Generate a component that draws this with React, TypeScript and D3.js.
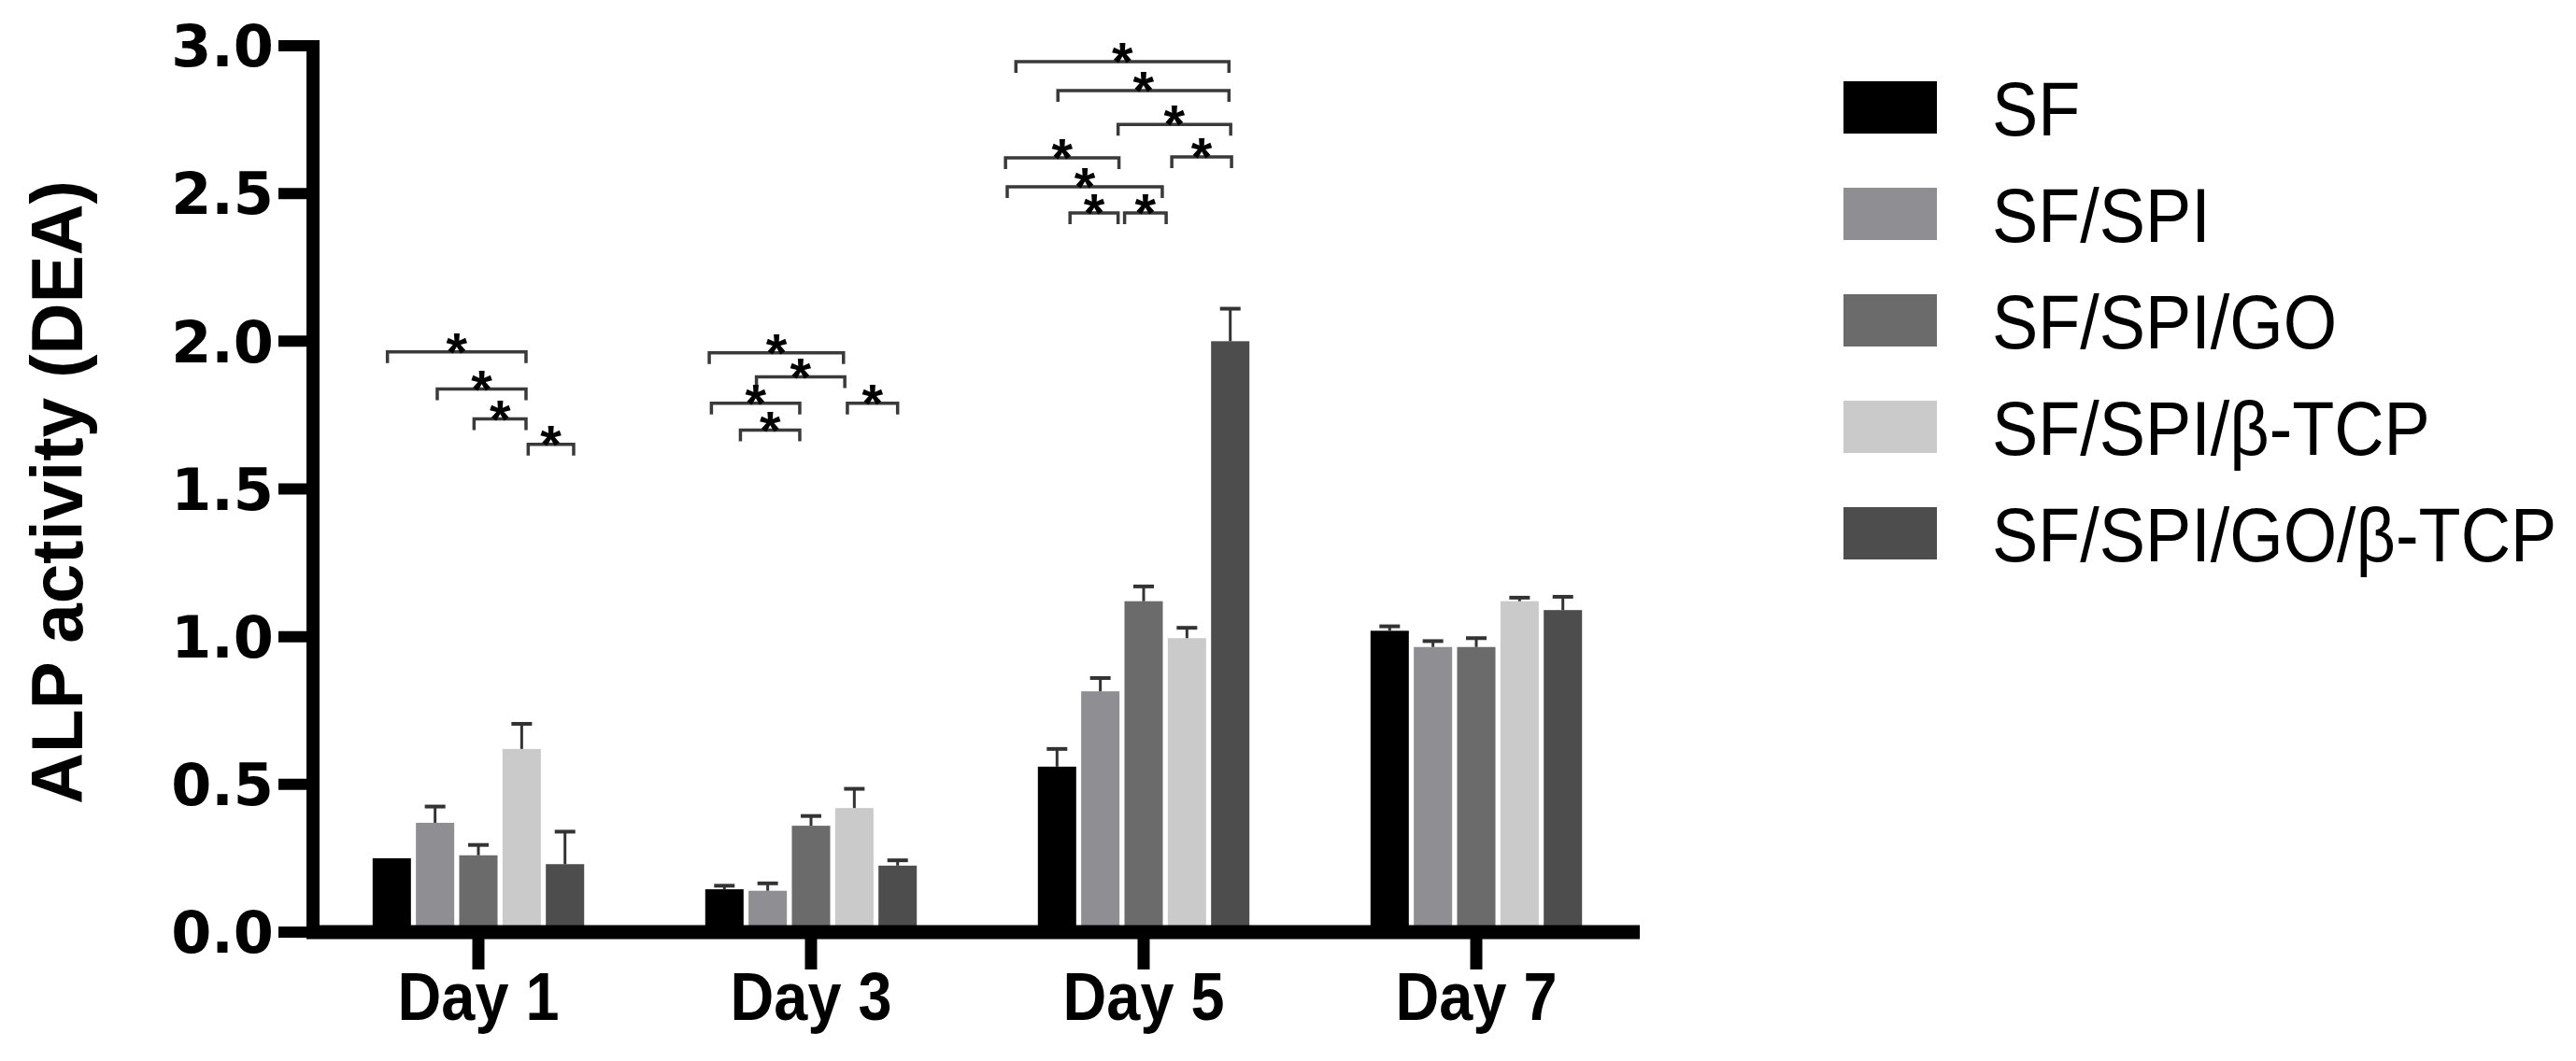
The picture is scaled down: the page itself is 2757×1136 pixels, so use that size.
import React, { useRef, useEffect } from "react";
import { select, scaleBand, scaleLinear, format } from "d3";

const days = ["Day 1", "Day 3", "Day 5", "Day 7"];
const groups = ["SF", "SF/SPI", "SF/SPI/GO", "SF/SPI/β-TCP", "SF/SPI/GO/β-TCP"];
const colors = ["#000000", "#8f8f93", "#6b6b6b", "#cacaca", "#4d4d4d"];

// mean ALP activity, one value per day
const sfMeans = [0.25, 0.145, 0.56, 1.02];
const spiMeans = [0.37, 0.14, 0.815, 0.965];
const goMeans = [0.26, 0.36, 1.12, 0.965];
const tcpMeans = [0.62, 0.42, 0.995, 1.12];
const goTcpMeans = [0.23, 0.225, 2.0, 1.09];

// upper error (SD)
const sfErr = [0.0, 0.012, 0.06, 0.015];
const spiErr = [0.055, 0.025, 0.045, 0.02];
const goErr = [0.035, 0.033, 0.05, 0.03];
const tcpErr = [0.085, 0.065, 0.035, 0.012];
const goTcpErr = [0.11, 0.018, 0.11, 0.045];

const yTicks = [0, 0.5, 1.0, 1.5, 2.0, 2.5, 3.0];

// significance brackets: [day index, from (bar index), to (bar index), height]
const brackets = [
  [0, -0.1, 3.1, 1.964],
  [0, 1.05, 3.1, 1.838],
  [0, 1.9, 3.1, 1.737],
  [0, 3.15, 4.2, 1.651],
  [1, -0.35, 2.75, 1.961],
  [1, 0.74, 2.78, 1.879],
  [1, -0.3, 1.74, 1.79],
  [1, 2.84, 4.0, 1.79],
  [1, 0.37, 1.74, 1.699],
  [2, -0.95, 3.97, 2.946],
  [2, 0.02, 3.97, 2.848],
  [2, 1.41, 4.01, 2.734],
  [2, -1.19, 1.43, 2.621],
  [2, 2.65, 4.03, 2.624],
  [2, -1.15, 2.43, 2.523],
  [2, 0.3, 1.41, 2.434],
  [2, 1.56, 2.52, 2.434],
];

const means = [sfMeans, spiMeans, goMeans, tcpMeans, goTcpMeans];
const errors = [sfErr, spiErr, goErr, tcpErr, goTcpErr];

function AlpChart() {
  const svgRef = useRef(null);

  useEffect(() => {
    const svg = select(svgRef.current);
    svg.selectAll("*").remove();

    const x0 = scaleBand()
      .domain(days)
      .range([334, 1758])
      .paddingInner(0.364)
      .paddingOuter(0.182);

    const x1 = scaleBand()
      .domain(groups)
      .range([0, x0.bandwidth()])
      .paddingInner(0.115);

    const y = scaleLinear().domain([0, 3]).range([998, 49]);

    const rows = days.flatMap((day, i) =>
      groups.map((g, j) => ({
        day,
        g,
        j,
        value: means[j][i],
        err: errors[j][i],
      }))
    );

    const barCenter = (d) => x0(d.day) + x1(d.g) + x1.bandwidth() / 2;

    // bars
    svg
      .append("g")
      .selectAll("rect")
      .data(rows)
      .join("rect")
      .attr("x", (d) => x0(d.day) + x1(d.g))
      .attr("y", (d) => y(d.value))
      .attr("width", x1.bandwidth())
      .attr("height", (d) => y(0) - y(d.value))
      .attr("fill", (d) => colors[d.j]);

    // error bars (upper only)
    const eb = svg
      .append("g")
      .attr("stroke", "#333")
      .selectAll("g")
      .data(rows.filter((d) => d.err > 0))
      .join("g");
    eb.append("line")
      .attr("x1", barCenter)
      .attr("x2", barCenter)
      .attr("y1", (d) => y(d.value))
      .attr("y2", (d) => y(d.value + d.err))
      .attr("stroke-width", 3);
    eb.append("line")
      .attr("x1", (d) => barCenter(d) - 11)
      .attr("x2", (d) => barCenter(d) + 11)
      .attr("y1", (d) => y(d.value + d.err))
      .attr("y2", (d) => y(d.value + d.err))
      .attr("stroke-width", 4);

    // y axis
    svg
      .append("line")
      .attr("x1", 335)
      .attr("x2", 335)
      .attr("y1", y(3) - 6)
      .attr("y2", y(0))
      .attr("stroke", "#000")
      .attr("stroke-width", 14);
    svg
      .append("g")
      .selectAll("line")
      .data(yTicks)
      .join("line")
      .attr("x1", 298)
      .attr("x2", 335)
      .attr("y1", (d) => y(d))
      .attr("y2", (d) => y(d))
      .attr("stroke", "#000")
      .attr("stroke-width", 12);
    svg
      .append("g")
      .selectAll("text")
      .data(yTicks)
      .join("text")
      .attr("x", 293)
      .attr("y", (d) => y(d))
      .attr("dy", "0.36em")
      .attr("text-anchor", "end")
      .attr("font-family", "DejaVu Sans")
      .attr("font-weight", "bold")
      .attr("font-size", 62)
      .text((d) => format(".1f")(d));

    svg
      .append("text")
      .attr("transform", "translate(88,527) rotate(-90)")
      .attr("text-anchor", "middle")
      .attr("font-family", "Liberation Sans")
      .attr("font-weight", "bold")
      .attr("font-size", 78)
      .attr("textLength", 668)
      .attr("lengthAdjust", "spacingAndGlyphs")
      .text("ALP activity (DEA)");

    // x axis
    svg
      .append("line")
      .attr("x1", 328)
      .attr("x2", 1755)
      .attr("y1", y(0))
      .attr("y2", y(0))
      .attr("stroke", "#000")
      .attr("stroke-width", 15);
    svg
      .append("g")
      .selectAll("line")
      .data(days)
      .join("line")
      .attr("x1", (d) => x0(d) + x0.bandwidth() / 2)
      .attr("x2", (d) => x0(d) + x0.bandwidth() / 2)
      .attr("y1", y(0))
      .attr("y2", 1038)
      .attr("stroke", "#000")
      .attr("stroke-width", 13);
    svg
      .append("g")
      .selectAll("text")
      .data(days)
      .join("text")
      .attr(
        "transform",
        (d) => `translate(${x0(d) + x0.bandwidth() / 2},1092) scale(0.9,1)`
      )
      .attr("text-anchor", "middle")
      .attr("font-family", "Liberation Sans")
      .attr("font-weight", "bold")
      .attr("font-size", 72)
      .text((d) => d);

    // significance brackets
    const bx = (dayIdx, pos) =>
      x0(days[dayIdx]) + x1(groups[0]) + x1.bandwidth() / 2 + pos * x1.step();
    const br = svg.append("g").selectAll("g").data(brackets).join("g");
    br.append("path")
      .attr("d", (d) => {
        const a = bx(d[0], d[1]);
        const b = bx(d[0], d[2]);
        const h = y(d[3]);
        return `M${a},${h + 12}V${h}H${b}V${h + 12}`;
      })
      .attr("fill", "none")
      .attr("stroke", "#3a3a3a")
      .attr("stroke-width", 3.5);
    br.append("text")
      .attr("x", (d) => (bx(d[0], d[1]) + bx(d[0], d[2])) / 2)
      .attr("y", (d) => y(d[3]) + 20)
      .attr("text-anchor", "middle")
      .attr("font-family", "Liberation Sans")
      .attr("font-weight", "bold")
      .attr("font-size", 58)
      .text("*");

    // legend
    const lg = svg
      .append("g")
      .selectAll("g")
      .data(groups)
      .join("g")
      .attr("transform", (d, i) => `translate(0,${115 + i * 114})`);
    lg.append("rect")
      .attr("x", 1973)
      .attr("y", -28)
      .attr("width", 100)
      .attr("height", 56)
      .attr("fill", (d, i) => colors[i]);
    lg.append("text")
      .attr("transform", "translate(2132,0) scale(0.9,1)")
      .attr("dy", "0.36em")
      .attr("font-family", "Liberation Sans")
      .attr("font-size", 82)
      .text((d) => d);
  }, []);

  return (
    <svg
      ref={svgRef}
      width={2757}
      height={1136}
      style={{ position: "absolute", left: 0, top: 0, background: "#fff" }}
    ></svg>
  );
}

export default function App() {
  return <AlpChart />;
}
